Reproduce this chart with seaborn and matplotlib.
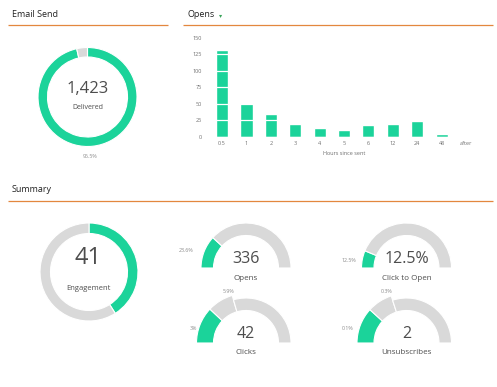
import matplotlib
matplotlib.use("Agg")
import matplotlib.pyplot as plt
import seaborn as sns
import pandas as pd

sns.set_theme(style="white")
plt.rcParams['font.family'] = ['Open Sans', 'DejaVu Sans']

# ---------------- data ----------------
hours = ["0.5", "1", "2", "3", "4", "5", "6", "12", "24", "48", "after"]
opens_by_hour = [131, 51, 35, 19, 14, 11, 18, 20, 24, 4, 0]
y_ticks = [0, 25, 50, 75, 100, 125, 150]

delivered_count = "1,423"
delivered_pct = [96.5, 3.5]          # delivered, not delivered
engagement = [41, 59]                # engaged, rest

gauge_titles = ["Opens", "Click to Open", "Clicks", "Unsubscribes"]
gauge_values = ["336", "12.5%", "42", "2"]
gauge_pcts = [23.6, 12.5, 3.0, 0.1]            # green share (label)
gauge_prev = [None, None, 5.9, 0.3]            # raised segment label
# share of the half circle, as drawn
gauge_green_sweep = [23.6, 12.5, 24.0, 23.5]
gauge_raised_sweep = [0.0, 0.0, 17.0, 16.5]

GREEN = "#1bd39a"
GRAY = "#d9d9d9"
ORANGE = "#e3873e"
DARK = "#4d4d4d"
LIGHT = "#8a8a8a"

W, H = 497, 387
fig = plt.figure(figsize=(W / 100, H / 100), dpi=100)
fig.patch.set_facecolor("white")

ax0 = fig.add_axes([0, 0, 1, 1])
ax0.set_axis_off()


def Y(y):
    return H - y


# ---------- section titles and rules ----------
ax0.text(12, Y(14.5), "Email Send", fontsize=6.5, color="#222222", va="center", ha="left")
ax0.text(188, Y(14.5), "Opens", fontsize=6.5, color="#222222", va="center", ha="left")
ax0.text(219, Y(15.5), "\u25BE", fontsize=4.5, color="#3aa35a", va="center", ha="left",
         family=["DejaVu Sans"])
ax0.text(12, Y(189.5), "Summary", fontsize=6.5, color="#222222", va="center", ha="left")
ax0.hlines([Y(25)], 8, 168, color=ORANGE, lw=0.9)
ax0.hlines([Y(25)], 183, 493, color=ORANGE, lw=0.9)
ax0.hlines([Y(201)], 8, 493, color=ORANGE, lw=0.9)

# ---------- donut: Email send ----------
ax0.pie(delivered_pct, colors=[GREEN, GRAY], radius=49.5, center=(87.5, Y(97)),
        startangle=90, counterclock=False, frame=True,
        wedgeprops=dict(width=9.5, edgecolor="white", linewidth=0.8))
ax0.text(88, Y(89), delivered_count, fontsize=12, color=DARK, ha="center", va="center")
ax0.text(88, Y(107.5), "Delivered", fontsize=5, color=DARK, ha="center", va="center")
ax0.text(90, Y(157), f"{delivered_pct[0]}%", fontsize=3.8, color=LIGHT, ha="center", va="center")

# ---------- donut: Engagement ----------
ax0.pie(engagement, colors=[GREEN, GRAY], radius=49, center=(89, Y(272)),
        startangle=90, counterclock=False, frame=True,
        wedgeprops=dict(width=10.5, edgecolor="white", linewidth=0.8))
ax0.text(88, Y(258), str(engagement[0]), fontsize=17, color=DARK, ha="center", va="center")
ax0.text(88, Y(289), "Engagement", fontsize=5.5, color=DARK, ha="center", va="center")

# ---------- gauges ----------
centers = [(246, 268), (406.5, 268), (246, 343), (406.5, 343)]
R, WID, RAISE = 45, 12.5, 4.5
for i, (cx, cy) in enumerate(centers):
    g = gauge_green_sweep[i]
    r = gauge_raised_sweep[i]
    rest = 100 - g - r
    vals = [g, r, rest, 100] if r > 0 else [g, rest, 100]
    if r > 0:
        # outer (raised) ring for green and previous-stage segment
        w1, _ = ax0.pie(vals, colors=[GREEN, GRAY, "none", "none"], radius=R + RAISE,
                        center=(cx, Y(cy)), startangle=180, counterclock=False, frame=True,
                        wedgeprops=dict(width=WID + RAISE, edgecolor="white", linewidth=0.8))
        w1[2].set_visible(False)
        w1[3].set_visible(False)
        w2, _ = ax0.pie(vals, colors=["none", "none", GRAY, "none"], radius=R,
                        center=(cx, Y(cy)), startangle=180, counterclock=False, frame=True,
                        wedgeprops=dict(width=WID, edgecolor="white", linewidth=0.8))
        w2[0].set_visible(False)
        w2[1].set_visible(False)
        w2[3].set_visible(False)
    else:
        w1, _ = ax0.pie(vals, colors=[GREEN, GRAY, "none"], radius=R,
                        center=(cx, Y(cy)), startangle=180, counterclock=False, frame=True,
                        wedgeprops=dict(width=WID, edgecolor="white", linewidth=0.8))
        w1[2].set_visible(False)
    ax0.text(cx, Y(cy - 9), gauge_values[i], fontsize=11.5, color=DARK, ha="center", va="center")
    ax0.text(cx, Y(cy + 10), gauge_titles[i], fontsize=5.8, color=DARK, ha="center", va="center")

# small % labels
pct_pos = [(186, 251), (349, 260), (193, 328), (348, 328)]
for (x, y), p in zip(pct_pos, gauge_pcts):
    ax0.text(x, Y(y), f"{p:g}%", fontsize=3.8, color=LIGHT, ha="center", va="center")
prev_pos = [None, None, (228.5, 291.5), (387, 291.5)]
for pos, p in zip(prev_pos, gauge_prev):
    if p is not None:
        ax0.text(pos[0], Y(pos[1]), f"{p:g}%", fontsize=3.8, color=LIGHT, ha="center", va="center")

ax0.set_xlim(0, W)
ax0.set_ylim(0, H)
ax0.set_aspect("auto")

# ---------- bar chart ----------
left_px, right_px = 209.8, 478.2
bot_px, top_px = 137.0, 37.5
ax1 = fig.add_axes([left_px / W, (H - bot_px) / H, (right_px - left_px) / W, (bot_px - top_px) / H])
df = pd.DataFrame({"hour": hours, "opens": opens_by_hour})
sns.barplot(data=df, x="hour", y="opens", order=hours, color=GREEN, saturation=1,
            width=0.5, ax=ax1)
ax1.set_xlim(-0.5, len(hours) - 0.5)
ax1.set_ylim(0, 150)
ax1.set_yticks(y_ticks)
ax1.set_facecolor("none")
for s in ax1.spines.values():
    s.set_visible(False)
ax1.grid(axis="y", color="white", lw=0.9)
ax1.grid(axis="x", visible=False)
ax1.set_axisbelow(False)
ax1.tick_params(axis="both", length=0, labelsize=4, colors="#707070")
ax1.tick_params(axis="y", pad=5.5)
ax1.tick_params(axis="x", pad=2.8)
ax1.set_ylabel("")
ax1.set_xlabel("Hours since sent", fontsize=4, color="#707070", labelpad=4)

fig.savefig("out.png", dpi=100, facecolor="white")
